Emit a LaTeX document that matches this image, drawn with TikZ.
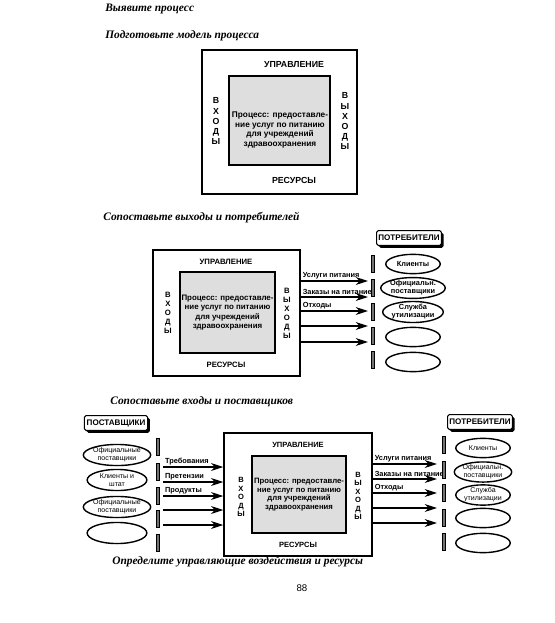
\documentclass[tikz,border=0pt]{standalone}
\usepackage{fontspec}
\setmainfont{Liberation Serif}
\setsansfont{Liberation Sans}
\usetikzlibrary{shapes.geometric, arrows.meta, positioning, fit, shadows}

\begin{document}
\begin{tikzpicture}[
    x=0.02cm, y=-0.02cm,
    heading/.style={anchor=west, inner sep=0pt, font=\bfseries\itshape\fontsize{6.5}{8}\selectfont},
    outer/.style={draw, line width=0.8pt, inner sep=0pt},
    inner/.style={draw, line width=0.7pt, fill=black!13, inner sep=0pt},
    lbl/.style={inner sep=0pt, font=\sffamily\bfseries\fontsize{#1}{#1}\selectfont},
    vtxt/.style 2 args={align=center, inner sep=0pt, font=\sffamily\bfseries\fontsize{#1}{#2}\selectfont},
    proc/.style={align=center, inner sep=0pt, font=\sffamily\bfseries\fontsize{4.5}{5.3}\selectfont},
    flow/.style={anchor=south west, inner sep=1pt, font=\sffamily\bfseries\fontsize{4.2}{5}\selectfont},
    arr/.style={line width=0.6pt, -{Stealth[length=7pt, width=4.5pt]}},
    bar/.style={rectangle, draw, line width=0.5pt, fill=black!55, minimum width=2pt, minimum height=10pt, inner sep=0pt},
    client/.style={ellipse, draw, line width=0.8pt, minimum width=31pt, minimum height=11pt, inner sep=0pt, align=center, font=\sffamily\bfseries\fontsize{4.2}{4.5}\selectfont},
    group/.style={draw, line width=0.6pt, fill=white, rounded corners=1pt, drop shadow={shadow xshift=1.3pt, shadow yshift=-1.3pt, fill=black, opacity=1}, minimum width=36pt, minimum height=8.5pt, inner sep=1pt, font=\sffamily\bfseries\fontsize{4.6}{5}\selectfont}
]
    \useasboundingbox (0,0) rectangle (555,623);

    % Выявите процесс / модель процесса
    \node[heading] (t1) at (105,9) {Выявите процесс};
    \node[heading] (t2) at (105,36) {Подготовьте модель процесса};
    \node[outer, fit={(202,50) (357,194)}] (m1) {};
    \node[inner, fit={(229,76) (330,165)}] (p1) {};
    \node[lbl=5] at (294,65) {УПРАВЛЕНИЕ};
    \node[lbl=5] at (294,180) {РЕСУРСЫ};
    \node[vtxt={5}{5.7}] at (216,121) {В\\Х\\О\\Д\\Ы};
    \node[vtxt={5}{5.7}] at (345,121) {В\\Ы\\Х\\О\\Д\\Ы};
    \node[proc, font=\sffamily\bfseries\fontsize{4.7}{5.4}\selectfont] at (280,130) {Процесс: предоставле-\\ние услуг по питанию\\для учреждений\\здравоохранения};

    % Сопоставьте выходы и потребителей
    \node[heading] (t3) at (103,218) {Сопоставьте выходы и потребителей};
    \node[outer, fit={(153,250) (300,376)}] (m2) {};
    \node[inner, fit={(180,272) (275,353)}] (p2) {};
    \node[lbl=4.4] at (226,262) {УПРАВЛЕНИЕ};
    \node[lbl=4.4] at (226,365) {РЕСУРСЫ};
    \node[vtxt={4.4}{5.1}] at (168,313) {В\\Х\\О\\Д\\Ы};
    \node[vtxt={4.4}{5.1}] at (287,313) {В\\Ы\\Х\\О\\Д\\Ы};
    \node[proc] at (p2.center) {Процесс: предоставле-\\ние услуг по питанию\\для учреждений\\здравоохранения};
    \foreach \y/\t [count=\k] in {281/Услуги питания, 297/Заказы на питание, 311/Отходы, 326/, 342/} {
        \coordinate (o2\k) at (368,\y);
        \draw[arr] (m2.east |- o2\k) -- (o2\k);
        \node[flow] at (m2.east |- o2\k) {\t};
    }
    \node[group] (g2) at (409,238) {ПОТРЕБИТЕЛИ};
    \foreach \y [count=\k] in {264,288,312,336,360}
        \node[bar] (b2\k) at (373,\y) {};
    \foreach \y/\t [count=\k] in {264/Клиенты, 288/{Официальн.\\поставщики}, 312/{Служба\\утилизации}, 337/, 362/}
        \node[client] (c2\k) at (413,\y) {\t};

    % Сопоставьте входы и поставщиков
    \node[heading] (t4) at (110,402) {Сопоставьте входы и поставщиков};
    \node[group] (g3) at (116,423) {ПОСТАВЩИКИ};
    \foreach \y/\t [count=\k] in {455/{Официальные\\поставщики}, 480/{Клиенты и\\штат}, 507/{Официальные\\поставщики}, 533/}
        \node[client, minimum width=34pt, minimum height=12pt, font=\sffamily\fontsize{4}{4.4}\selectfont] (s3\k) at (117,\y) {\t};
    \foreach \y [count=\k] in {447,472,496,519,543}
        \node[bar] (a3\k) at (158,\y) {};
    \node[outer, fit={(224,433) (372,556)}] (m3) {};
    \node[inner, fit={(252,456) (346,533)}] (p3) {};
    \node[lbl=4.3] at (298,445) {УПРАВЛЕНИЕ};
    \node[lbl=4.3] at (298,545) {РЕСУРСЫ};
    \node[vtxt={4.3}{4.8}] at (241,497) {В\\Х\\О\\Д\\Ы};
    \node[vtxt={4.3}{4.8}] at (358,496) {В\\Ы\\Х\\О\\Д\\Ы};
    \node[proc, font=\sffamily\bfseries\fontsize{4.4}{4.9}\selectfont] at (p3.center) {Процесс: предоставле-\\ние услуг по питанию\\для учреждений\\здравоохранения};
    \foreach \y/\t [count=\k] in {467/Требования, 482/Претензии, 496/Продукты, 510/, 525/} {
        \coordinate (i3\k) at (163,\y);
        \draw[arr] (i3\k) -- (i3\k -| m3.west);
        \node[flow] at (i3\k) {\t};
    }
    \foreach \y/\t [count=\k] in {464/Услуги питания, 479/Заказы на питание, 493/Отходы, 508/, 523/} {
        \coordinate (o3\k) at (437,\y);
        \draw[arr] (m3.east |- o3\k) -- (o3\k);
        \node[flow] at (m3.east |- o3\k) {\t};
    }
    \node[group] (g4) at (480,422) {ПОТРЕБИТЕЛИ};
    \foreach \y [count=\k] in {445,470,493,518,542}
        \node[bar] (b3\k) at (444,\y) {};
    \foreach \y/\t [count=\k] in {448/Клиенты, 472/{Официальн.\\поставщики}, 495/{Служба\\утилизации}, 518/, 543/}
        \node[client, font=\sffamily\fontsize{4}{4.4}\selectfont] (c3\k) at (483,\y) {\t};

    \node[heading] (t5) at (112,562) {Определите управляющие воздействия и ресурсы};
    \node[font=\sffamily\fontsize{5.5}{6}\selectfont] (pg) at (302,588) {88};
\end{tikzpicture}
\end{document}
